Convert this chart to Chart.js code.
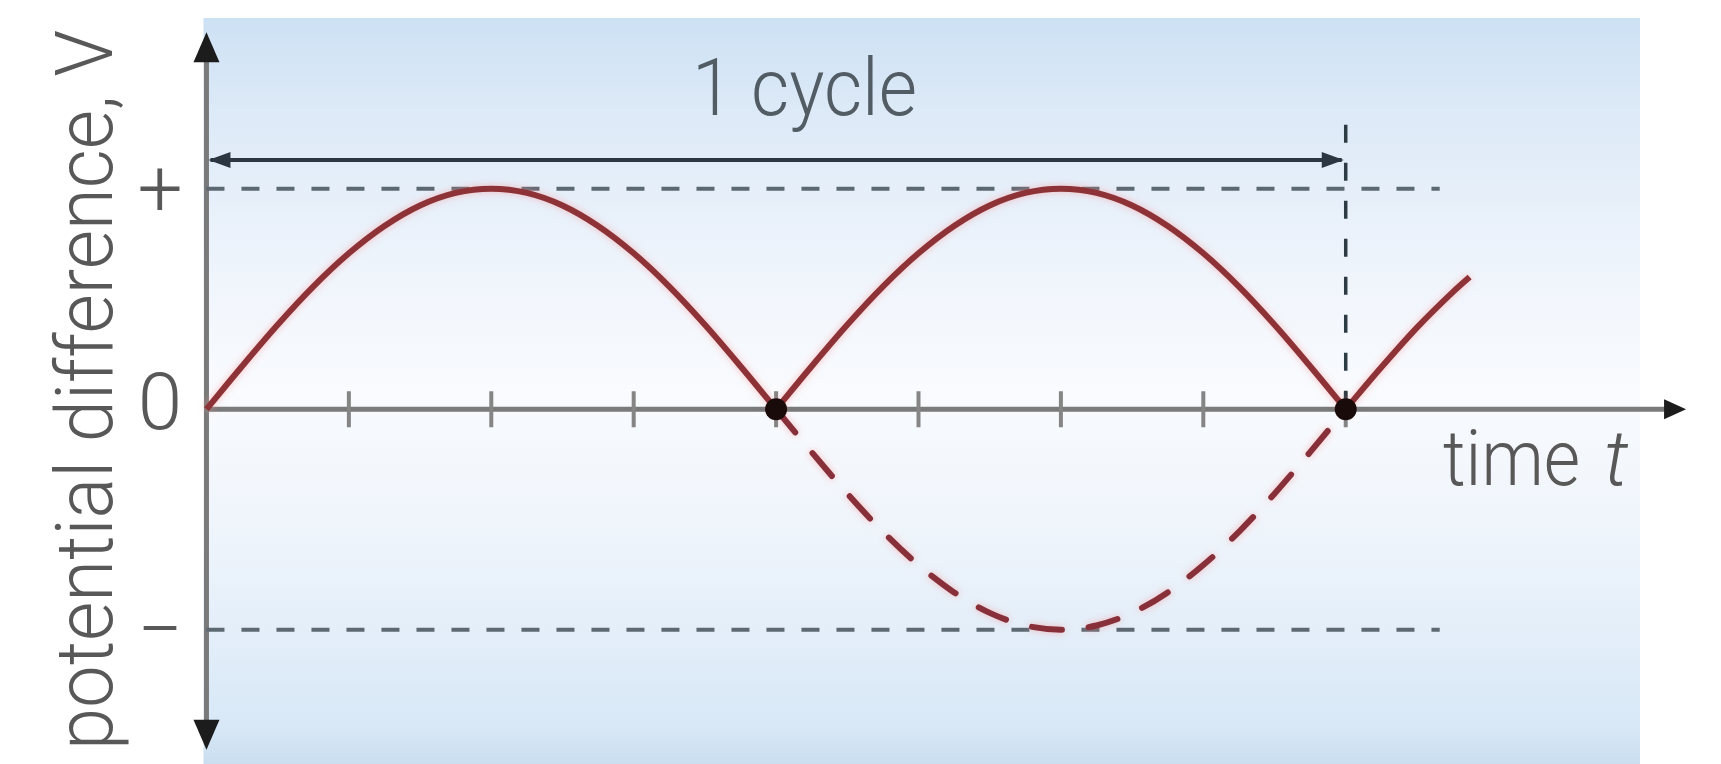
<!DOCTYPE html>
<html>
<head>
<meta charset="utf-8">
<title>potential difference vs time</title>
<script src="https://cdn.jsdelivr.net/npm/chart.js@4.4.0/dist/chart.umd.min.js"></script>
<style>
  html, body { margin: 0; padding: 0; background: #fff; }
  #wrap { width: 1721px; height: 764px; }
</style>
</head>
<body>
<div id="wrap"><canvas id="waveChart" width="1721" height="764"></canvas></div>
<script>
// time in tick units, p.d. in units of the peak value
const hump1Time = [0, 0.25, 0.5, 0.75, 1, 1.25, 1.5, 1.75, 2, 2.25, 2.5, 2.75, 3, 3.25, 3.5, 3.75, 4];
const hump1Pd   = [0, 0.195, 0.383, 0.556, 0.707, 0.831, 0.924, 0.981, 1, 0.981, 0.924, 0.831, 0.707, 0.556, 0.383, 0.195, 0];
const hump2Time = [4, 4.25, 4.5, 4.75, 5, 5.25, 5.5, 5.75, 6, 6.25, 6.5, 6.75, 7, 7.25, 7.5, 7.75, 8];
const hump2Pd   = [0, 0.195, 0.383, 0.556, 0.707, 0.831, 0.924, 0.981, 1, 0.981, 0.924, 0.831, 0.707, 0.556, 0.383, 0.195, 0];
const tailTime  = [8, 8.25, 8.5, 8.75, 8.87];
const tailPd    = [0, 0.19, 0.37, 0.53, 0.6];
// the reversed half cycle that the rectifier removes (dashed)
const negPd     = [0, -0.195, -0.383, -0.556, -0.707, -0.831, -0.924, -0.981, -1, -0.981, -0.924, -0.831, -0.707, -0.556, -0.383, -0.195, 0];

const dotTime = [4, 8];
const dotPd = [0, 0];
const tickTimes = [1, 2, 3, 4, 5, 6, 7, 8];
const yTickValues = [1, 0, -1];
const yTickLabels = ['+', '0', '\u2212'];
const refLineTime = [0, 8.66];
const cycleStart = 0;
const cycleEnd = 8;
const cycleArrowLevel = 1.13;
const cycleMarkTop = 1.29;

function toPoints(ts, vs) {
  return ts.map((t, i) => ({ x: t, y: vs[i] }));
}

function arrowHead(ctx, x, y, angle, len, halfW) {
  ctx.save();
  ctx.translate(x, y);
  ctx.rotate(angle);
  ctx.beginPath();
  ctx.moveTo(0, 0);
  ctx.lineTo(-len, -halfW);
  ctx.lineTo(-len, halfW);
  ctx.closePath();
  ctx.fill();
  ctx.restore();
}

const sketchPlugin = {
  id: 'sketch',
  beforeDraw(chart) {
    const ctx = chart.ctx;
    const xs = chart.scales.x;
    const left = xs.getPixelForValue(0) - 3;
    ctx.save();
    ctx.fillStyle = '#ffffff';
    ctx.fillRect(0, 0, chart.width, chart.height);
    const g = ctx.createLinearGradient(0, 18, 0, 764);
    g.addColorStop(0, '#cde1f4');
    g.addColorStop(0.12, '#dce9f7');
    g.addColorStop(0.35, '#f0f5fc');
    g.addColorStop(0.5, '#f9fbfe');
    g.addColorStop(0.7, '#eef4fb');
    g.addColorStop(0.95, '#d8e8f7');
    g.addColorStop(1, '#cadeef');
    ctx.fillStyle = g;
    ctx.fillRect(left, 18, 1640 - left, 764 - 18);
    ctx.restore();
  },
  beforeDatasetsDraw(chart) {
    const ctx = chart.ctx;
    const xs = chart.scales.x, ys = chart.scales.y;
    const x0 = xs.getPixelForValue(0);
    const y0 = ys.getPixelForValue(0);
    ctx.save();

    // axes
    ctx.strokeStyle = '#7a7a7a';
    ctx.lineWidth = 5;
    ctx.beginPath();
    ctx.moveTo(x0, ys.getPixelForValue(1.68));
    ctx.lineTo(x0, ys.getPixelForValue(-1.52));
    ctx.moveTo(x0, y0);
    ctx.lineTo(xs.getPixelForValue(10.3), y0);
    ctx.stroke();
    ctx.fillStyle = '#1c1c1c';
    arrowHead(ctx, x0, ys.getPixelForValue(1.71), -Math.PI / 2, 30, 13);
    arrowHead(ctx, x0, ys.getPixelForValue(-1.545), Math.PI / 2, 30, 13);
    arrowHead(ctx, xs.getPixelForValue(10.39), y0, 0, 22, 10);

    // ticks on the time axis
    ctx.strokeStyle = '#858585';
    ctx.lineWidth = 4;
    ctx.beginPath();
    tickTimes.forEach(t => {
      const x = xs.getPixelForValue(t);
      ctx.moveTo(x, y0 - 18);
      ctx.lineTo(x, y0 + 18);
    });
    ctx.stroke();

    // dashed marker at the end of one cycle
    ctx.strokeStyle = '#2d3b45';
    ctx.lineWidth = 3.5;
    ctx.setLineDash([18, 20]);
    ctx.beginPath();
    ctx.moveTo(xs.getPixelForValue(cycleEnd), ys.getPixelForValue(cycleMarkTop));
    ctx.lineTo(xs.getPixelForValue(cycleEnd), y0);
    ctx.stroke();
    ctx.setLineDash([]);

    // "1 cycle" double arrow
    const ay = ys.getPixelForValue(cycleArrowLevel);
    const ax1 = xs.getPixelForValue(cycleStart);
    const ax2 = xs.getPixelForValue(cycleEnd);
    ctx.strokeStyle = '#2b3640';
    ctx.fillStyle = '#2b3640';
    ctx.lineWidth = 4;
    ctx.beginPath();
    ctx.moveTo(ax1 + 4, ay);
    ctx.lineTo(ax2 - 4, ay);
    ctx.stroke();
    arrowHead(ctx, ax1 + 2, ay, Math.PI, 22, 8);
    arrowHead(ctx, ax2 - 2, ay, 0, 22, 8);

    // texts (thin grey lettering)
    const fam = 'Roboto, Lato, "Liberation Sans", Arial, sans-serif';
    ctx.fillStyle = '#515c64';
    ctx.font = '300 80px ' + fam;
    ctx.textAlign = 'left';
    ctx.textBaseline = 'alphabetic';
    ctx.fillText('1 cycle', 692, 115, 225);

    ctx.fillStyle = '#585858';
    ctx.textAlign = 'center';
    yTickValues.forEach((v, i) => {
      const y = ys.getPixelForValue(v);
      const off = yTickLabels[i] === '0' ? 20 : 27;
      ctx.fillText(yTickLabels[i], 160, y + off);
    });

    ctx.textAlign = 'left';
    ctx.font = '300 78px ' + fam;
    ctx.fillText('time', 1443, 485, 137);
    ctx.font = 'italic 300 78px ' + fam;
    ctx.fillText('t', 1604, 485);

    ctx.save();
    ctx.translate(112, 390);
    ctx.rotate(-Math.PI / 2);
    ctx.font = '300 80px ' + fam;
    ctx.textAlign = 'center';
    ctx.fillText('potential difference, V', 0, 0, 720);
    ctx.restore();

    ctx.restore();
  },
  beforeDatasetDraw(chart, args) {
    const ds = chart.data.datasets[args.index];
    if (ds.glow) {
      chart.ctx.shadowColor = 'rgba(255, 140, 140, 0.55)';
      chart.ctx.shadowBlur = 7;
    }
  },
  afterDatasetDraw(chart) {
    chart.ctx.shadowColor = 'rgba(0,0,0,0)';
    chart.ctx.shadowBlur = 0;
  }
};

const curveColor = '#8d3236';

new Chart(document.getElementById('waveChart').getContext('2d'), {
  type: 'line',
  data: {
    datasets: [
      {
        label: 'dots',
        data: toPoints(dotTime, dotPd),
        showLine: false,
        pointRadius: 11,
        pointBackgroundColor: '#1a0b0b',
        pointBorderWidth: 0,
        order: 0
      },
      {
        label: 'rectified 1',
        data: toPoints(hump1Time, hump1Pd),
        borderColor: curveColor, borderWidth: 6, pointRadius: 0,
        cubicInterpolationMode: 'monotone', glow: true, order: 1
      },
      {
        label: 'rectified 2',
        data: toPoints(hump2Time, hump2Pd),
        borderColor: curveColor, borderWidth: 6, pointRadius: 0,
        cubicInterpolationMode: 'monotone', glow: true, order: 1
      },
      {
        label: 'rectified 3',
        data: toPoints(tailTime, tailPd),
        borderColor: curveColor, borderWidth: 6, pointRadius: 0,
        cubicInterpolationMode: 'monotone', glow: true, order: 1
      },
      {
        label: 'removed half',
        data: toPoints(hump2Time, negPd),
        borderColor: '#88303a', borderWidth: 6, pointRadius: 0,
        borderDash: [30, 27], borderCapStyle: 'round',
        cubicInterpolationMode: 'monotone', glow: true, order: 2
      },
      {
        label: 'peak +',
        data: toPoints(refLineTime, [1, 1]),
        borderColor: '#5c6872', borderWidth: 4, pointRadius: 0,
        borderDash: [18, 17], order: 3
      },
      {
        label: 'peak -',
        data: toPoints(refLineTime, [-1, -1]),
        borderColor: '#5c6872', borderWidth: 4, pointRadius: 0,
        borderDash: [18, 17], order: 3
      }
    ]
  },
  options: {
    responsive: false,
    animation: false,
    devicePixelRatio: 1,
    layout: { padding: 0 },
    plugins: { legend: { display: false }, tooltip: { enabled: false } },
    scales: {
      x: { type: 'linear', display: false, min: -1.3726, max: 10.558 },
      y: { type: 'linear', display: false, min: -1.5595, max: 1.8062 }
    }
  },
  plugins: [sketchPlugin]
});
</script>
</body>
</html>
